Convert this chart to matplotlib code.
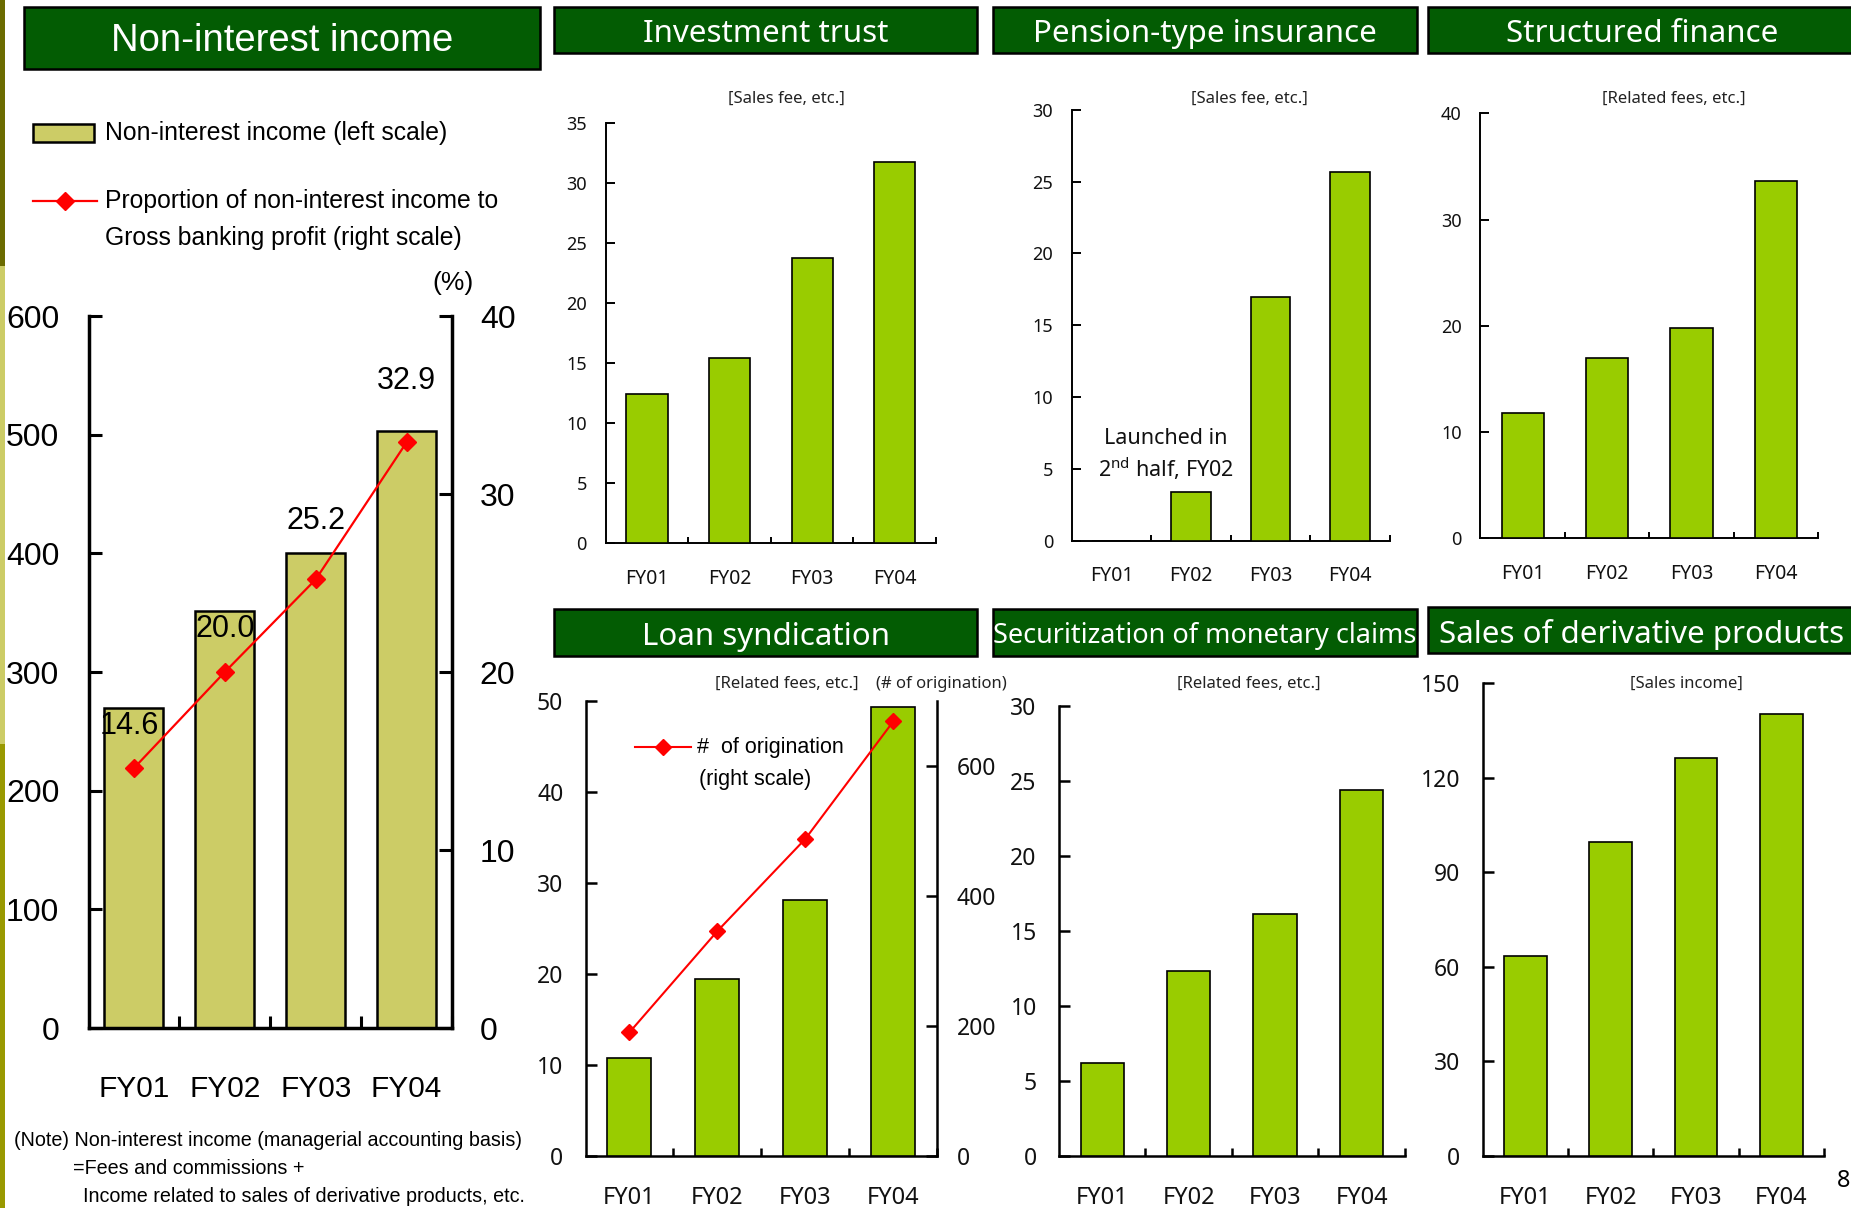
import matplotlib
matplotlib.use('Agg')
import matplotlib.pyplot as plt
from matplotlib.patches import Rectangle
from matplotlib.lines import Line2D
import numpy as np

plt.rcParams['font.family'] = ['Noto Sans', 'DejaVu Sans']
NARROW = ['Liberation Sans', 'DejaVu Sans']

# ---------------- data ----------------
categories = ['FY01', 'FY02', 'FY03', 'FY04']
nonint_income = [270, 351, 400, 503]          # left scale
nonint_ratio = [14.6, 20.0, 25.2, 32.9]       # right scale (%)
invest_trust = [12.4, 15.4, 23.7, 31.7]
pension = [0, 3.4, 17.0, 25.7]
structured = [11.8, 17.0, 19.8, 33.6]
loan_fees = [10.7, 19.4, 28.1, 49.4]
loan_count = [190, 346, 488, 669]
securitization = [6.2, 12.3, 16.1, 24.4]
derivative = [63.4, 99.7, 126.4, 140.3]

W, H = 1851, 1208
DARK_GREEN = '#035c03'
BAR_GREEN = '#99cc00'
BAR_OLIVE = '#cccc66'

fig = plt.figure(figsize=(W / 100, H / 100), dpi=100)
fig.patch.set_facecolor('white')


def px_axes(l, t, r, b):
    return fig.add_axes([l / W, 1 - b / H, (r - l) / W, (b - t) / H])


x = np.arange(len(categories))


def bar_panel(rect, values, ymax, ystep, fs_tick, fs_cat, lw, ylen, xlen, pad_y, pad_x):
    ax = px_axes(*rect)
    ax.set_facecolor('none')
    ax.bar(x, values, width=0.5, color=BAR_GREEN, edgecolor='black', linewidth=1.2, zorder=3)
    ax.set_xlim(-0.5, 3.5)
    ax.set_ylim(0, ymax)
    ax.set_yticks(np.arange(0, ymax + 0.001, ystep))
    ax.set_xticks([0.5, 1.5, 2.5, 3.5])
    ax.set_xticklabels([])
    ax.set_xticks(x, minor=True)
    ax.set_xticklabels(categories, minor=True)
    ax.tick_params(axis='x', which='minor', length=0, pad=pad_x, labelsize=fs_cat, colors='#111111')
    ax.tick_params(axis='x', which='major', direction='in', length=xlen, width=lw)
    ax.tick_params(axis='y', direction='in', length=ylen, width=lw, pad=pad_y, labelsize=fs_tick,
                   labelcolor='#111111')
    for s in ['top', 'right']:
        ax.spines[s].set_visible(False)
    for s in ['left', 'bottom']:
        ax.spines[s].set_linewidth(lw)
    return ax


# ---------------- left main chart ----------------
axL = px_axes(88.5, 316, 452, 1028)
axL.set_facecolor('none')
axL.bar(x, nonint_income, width=0.65, color=BAR_OLIVE, edgecolor='black', linewidth=1.8, zorder=2)
axL.set_xlim(-0.5, 3.5)
axL.set_ylim(0, 600)
axL.set_yticks(np.arange(0, 601, 100))
axL.set_xticks([0.5, 1.5, 2.5, 3.5])
axL.set_xticklabels([])
axL.set_xticks(x, minor=True)
axL.set_xticklabels(categories, minor=True, family=NARROW)
axL.tick_params(axis='x', which='minor', length=0, pad=34, labelsize=21.5)
axL.tick_params(axis='x', which='major', direction='in', length=9, width=2.2)
axL.tick_params(axis='y', direction='in', length=9.5, width=2.2, pad=21, labelsize=23)
for lab in axL.get_yticklabels():
    lab.set_family(NARROW)
axL.spines['top'].set_visible(False)
axL.spines['right'].set_visible(False)
for s in ['left', 'bottom']:
    axL.spines[s].set_linewidth(2.5)

axR = axL.twinx()
axR.set_ylim(0, 40)
axR.set_yticks([0, 10, 20, 30, 40])
axR.plot(x, nonint_ratio, color='red', lw=1.6, marker='D', ms=9, zorder=5)
axR.tick_params(axis='y', direction='in', length=9.5, width=2.2, pad=20, labelsize=23)
for lab in axR.get_yticklabels():
    lab.set_family(NARROW)
for s in ['top', 'left', 'bottom']:
    axR.spines[s].set_visible(False)
axR.spines['right'].set_linewidth(2.5)
offsets = [(-3, 30), (0, 31), (0, 42), (0, 44)]
for i, v in enumerate(nonint_ratio):
    axR.annotate(f'{v:.1f}', (x[i], v), xytext=offsets[i], textcoords='offset points',
                 ha='center', va='center', fontsize=22, family=NARROW, zorder=6)

# ---------------- small charts ----------------
TOP_PADX = 18.5
bar_panel((605.6, 122.8, 936.1, 543.0), invest_trust, 35, 5, 13, 14, 1.4, 6.5, 4.5, 13.5, TOP_PADX)
axP = bar_panel((1071.9, 109.8, 1389.5, 540.7), pension, 30, 5, 13, 14, 1.4, 6.5, 4.5, 13.5, TOP_PADX)
axP.text(0.685, 7.15, 'Launched in', ha='center', va='center', fontsize=15.5, color='#111111')
axP.text(0.685, 5.0, '2$^{\\mathregular{nd}}$ half, FY02', ha='center', va='center', fontsize=15.5,
         color='#111111')
bar_panel((1480.4, 113.3, 1818.0, 538.3), structured, 40, 10, 13, 14, 1.4, 6.5, 4.5, 13.5, TOP_PADX)

BOT_PADX = 21.5
axLo = bar_panel((585.5, 701.2, 937.3, 1155.7), loan_fees, 50, 10, 16.5, 17, 1.8, 8, 6, 16, BOT_PADX)
axLo2 = axLo.twinx()
axLo2.set_ylim(0, 700)
axLo2.set_yticks([0, 200, 400, 600])
axLo2.plot(x, loan_count, color='red', lw=1.5, marker='D', ms=8, zorder=5)
axLo2.tick_params(axis='y', direction='in', length=8, width=1.8, pad=14, labelsize=16.5,
                  labelcolor='#111111')
for s in ['top', 'left', 'bottom']:
    axLo2.spines[s].set_visible(False)
axLo2.spines['right'].set_linewidth(1.8)

bar_panel((1058.9, 705.9, 1404.8, 1155.7), securitization, 30, 5, 16.5, 17, 1.8, 8, 6, 16, BOT_PADX)
bar_panel((1482.7, 683.5, 1823.9, 1155.7), derivative, 150, 30, 16.5, 17, 1.8, 8, 6, 16, BOT_PADX)

# ---------------- overlay: titles, legends, notes ----------------
ov = fig.add_axes([0, 0, 1, 1])
ov.set_xlim(0, W)
ov.set_ylim(H, 0)
ov.axis('off')
ov.set_zorder(10)
ov.patch.set_alpha(0)

# left decorative strip
ov.add_patch(Rectangle((0, 0), 5, 266, facecolor='#6b6b00', edgecolor='none'))
ov.add_patch(Rectangle((0, 266), 5, 478, facecolor='#cccc66', edgecolor='none'))
ov.add_patch(Rectangle((0, 744), 5, 464, facecolor='#999900', edgecolor='none'))


def title_box(l, t, r, b, text, fs, family=None, dy=4):
    ov.add_patch(Rectangle((l, t), r - l, b - t, facecolor=DARK_GREEN, edgecolor='black', lw=1.8))
    kw = {'family': family} if family else {}
    ov.text((l + r) / 2, (t + b) / 2 + dy, text, ha='center', va='center', color='white', fontsize=fs, **kw)


title_box(24, 7, 540, 69, 'Non-interest income', 27.5, NARROW, dy=3)
title_box(554, 7, 977, 53, 'Investment trust', 22.5)
title_box(993, 7, 1417, 53, 'Pension-type insurance', 22.5)
title_box(1428, 7, 1856, 53, 'Structured finance', 22.5)
title_box(554, 609, 977, 656, 'Loan syndication', 22.5)
title_box(993, 609, 1417, 656, 'Securitization of monetary claims', 19.5)
title_box(1428, 607, 1856, 653, 'Sales of derivative products', 22.5)

# subtitles
sub_kw = dict(ha='center', va='center', fontsize=12, color='#222222')
ov.text(786, 99, '[Sales fee, etc.]', **sub_kw)
ov.text(1249, 99, '[Sales fee, etc.]', **sub_kw)
ov.text(1674, 99, '[Related fees, etc.]', **sub_kw)
ov.text(787, 683.5, '[Related fees, etc.]', **sub_kw)
ov.text(941, 683.5, '(# of origination)', **sub_kw)
ov.text(1249, 683.5, '[Related fees, etc.]', **sub_kw)
ov.text(1686, 683.5, '[Sales income]', **sub_kw)

# left legend
LEG_FS = 17.8
ov.add_patch(Rectangle((33, 124), 61, 18, facecolor=BAR_OLIVE, edgecolor='black', lw=1.8))
ov.text(105, 133, 'Non-interest income (left scale)', ha='left', va='center', fontsize=LEG_FS, family=NARROW)
ov.add_line(Line2D([33, 97], [201, 201], color='red', lw=1.6))
ov.add_line(Line2D([65], [201], color='red', marker='D', ms=9, lw=0))
ov.text(105, 201, 'Proportion of non-interest income to', ha='left', va='center', fontsize=LEG_FS, family=NARROW)
ov.text(105, 238, 'Gross banking profit (right scale)', ha='left', va='center', fontsize=LEG_FS, family=NARROW)
ov.text(453, 283, '(%)', ha='center', va='center', fontsize=19, family=NARROW)

# note
note_kw = dict(ha='left', va='center', fontsize=14.2, family=NARROW)
ov.text(14, 1140, '(Note) Non-interest income (managerial accounting basis)', **note_kw)
ov.text(73, 1169, '=Fees and commissions +', **note_kw)
ov.text(83, 1197, 'Income related to sales of derivative products, etc.', **note_kw)

# loan legend
ov.add_line(Line2D([635, 691], [747, 747], color='red', lw=1.5))
ov.add_line(Line2D([663], [747], color='red', marker='D', ms=8, lw=0))
ov.text(697, 747, '#  of origination', ha='left', va='center', fontsize=15.5, family=NARROW)
ov.text(699, 779, '(right scale)', ha='left', va='center', fontsize=15.5, family=NARROW)

# page number
ov.text(1837, 1181, '8', ha='left', va='center', fontsize=17)

fig.savefig('out.png', dpi=100)
